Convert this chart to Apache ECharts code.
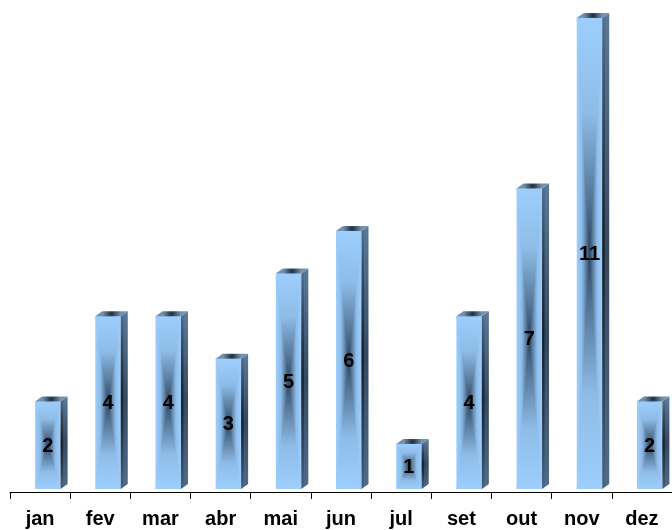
<!DOCTYPE html>
<html>
<head>
<meta charset="utf-8">
<script src="https://cdn.jsdelivr.net/npm/echarts@6/dist/echarts.min.js"></script>
<style>
  html, body { margin: 0; padding: 0; background: #fff; }
  #chart { width: 672px; height: 530px; }
</style>
</head>
<body>
<div id="chart"></div>
<script>
// Monthly counts
const months = ['jan', 'fev', 'mar', 'abr', 'mai', 'jun', 'jul', 'set', 'out', 'nov', 'dez'];
const counts = [2, 4, 4, 3, 5, 6, 1, 4, 7, 11, 2];

const FONT = '"Liberation Sans", Arial, sans-serif';
const G = echarts.graphic;

// Colour ramp of the front face, from its edge (0) to its centre (1)
const EDGE = '#9dcefd';
const RAMP = [
  [0, EDGE],
  [0.4, '#8ebce8'],
  [0.75, '#587a9c'],
  [1, '#2d4561']
];

function rampStops(reverse) {
  return RAMP.map(([o, c]) => ({ offset: reverse ? 1 - o : o, color: c }))
    .sort((a, b) => a.offset - b.offset);
}

function horizontalStops() {
  const left = RAMP.map(([o, c]) => ({ offset: o / 2, color: c }));
  const right = RAMP.slice(0, -1).reverse().map(([o, c]) => ({ offset: 1 - o / 2, color: c }));
  return left.concat(right);
}

// Pseudo-3D column: front face shaded from its border towards the centre,
// a dark side face and a top face
function renderColumn(params, api) {
  const i = api.value(0);
  const v = api.value(1);
  const top = api.coord([i, v]);
  const base = api.coord([i, 0]);
  const cx = top[0];
  const L = cx - 5;
  const R = cx + 20.5;
  const T = top[1];
  const B = base[1] + 2.5;
  const d = 7;   // depth offset to the right
  const h = 5;   // depth offset upward
  const w = R - L;
  const mx = (L + R) / 2;
  const my = (T + B) / 2;

  const front = {
    type: 'rect',
    shape: { x: L, y: T, width: w, height: B - T },
    style: { fill: new G.LinearGradient(0, 0, 1, 0, horizontalStops()) }
  };
  const frontTop = {
    type: 'polygon',
    shape: { points: [[L, T], [R, T], [mx, my]] },
    style: { fill: new G.LinearGradient(0, 0, 0, 1, rampStops(false)) }
  };
  const frontBottom = {
    type: 'polygon',
    shape: { points: [[L, B], [R, B], [mx, my]] },
    style: { fill: new G.LinearGradient(0, 0, 0, 1, rampStops(true)) }
  };
  const side = {
    type: 'polygon',
    shape: { points: [[R, T], [R + d, T - h], [R + d, B - h], [R, B]] },
    style: {
      fill: new G.LinearGradient(0, 0, 0, 1, [
        { offset: 0, color: '#5a7a9b' },
        { offset: 0.5, color: '#34495f' },
        { offset: 1, color: '#4f6c8b' }
      ])
    }
  };
  const sideEdge = {
    type: 'polygon',
    shape: { points: [[R, T], [R + 2.5, T - 2], [R + 2.5, B - 2], [R, B]] },
    style: {
      fill: new G.LinearGradient(0, 0, 0, 1, [
        { offset: 0, color: 'rgba(18,28,40,0.1)' },
        { offset: 0.5, color: 'rgba(18,28,40,0.85)' },
        { offset: 1, color: 'rgba(18,28,40,0.1)' }
      ])
    }
  };
  const topFace = {
    type: 'polygon',
    shape: { points: [[L, T], [R, T], [R + d, T - h], [L + d, T - h]] },
    style: {
      fill: new G.RadialGradient(0.5, 0.5, 1.8, [
        { offset: 0, color: '#1d2b3b' },
        { offset: 1, color: '#7390ae' }
      ])
    }
  };
  const label = {
    type: 'text',
    style: {
      text: String(v),
      x: mx,
      y: my + 1,
      align: 'center',
      verticalAlign: 'middle',
      font: 'bold 20px ' + FONT,
      fill: '#000'
    }
  };
  return { type: 'group', children: [front, frontTop, frontBottom, side, sideEdge, topFace, label] };
}

const chart = echarts.init(document.getElementById('chart'), null, { renderer: 'canvas' });
chart.setOption({
  animation: false,
  backgroundColor: '#fff',
  grid: { left: 10, width: 667.5, top: 18, bottom: 43.4, containLabel: false },
  xAxis: {
    type: 'category',
    data: months,
    offset: 5.4,
    axisLine: { show: true, onZero: false, lineStyle: { color: '#000', width: 1 } },
    axisTick: { show: true, length: 7, lineStyle: { color: '#000' } },
    axisLabel: {
      margin: 17,
      color: '#000',
      fontFamily: FONT,
      fontWeight: 'bold',
      fontSize: 20
    },
    splitLine: { show: false }
  },
  yAxis: {
    type: 'value',
    min: 0,
    max: 11,
    show: false,
    splitLine: { show: false }
  },
  series: [{
    type: 'custom',
    renderItem: renderColumn,
    encode: { x: 0, y: 1 },
    data: counts.map((c, i) => [i, c]),
    clip: false
  }]
});
</script>
</body>
</html>
